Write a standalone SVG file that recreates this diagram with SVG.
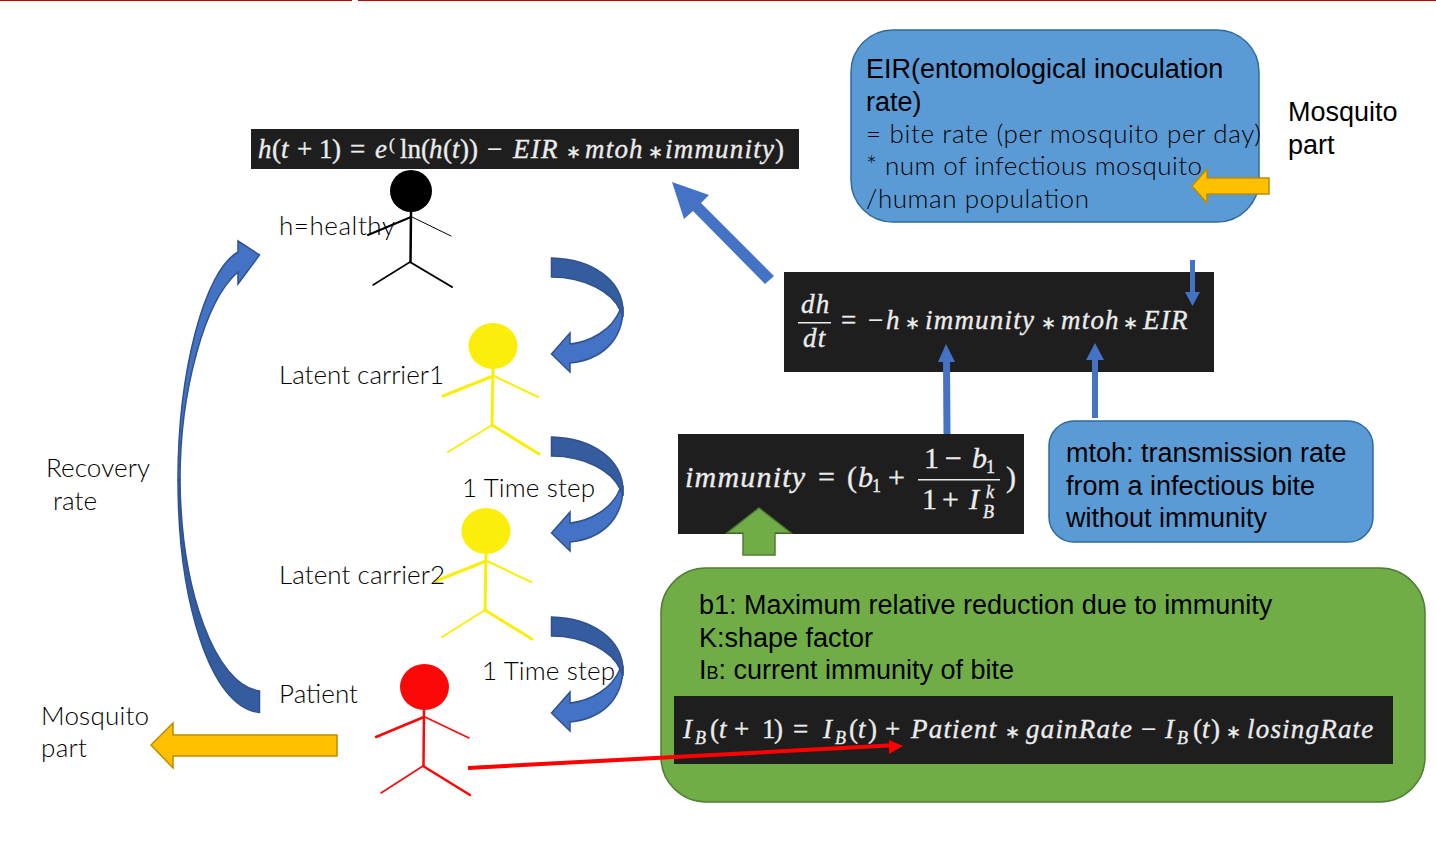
<svg xmlns="http://www.w3.org/2000/svg" xmlns:xlink="http://www.w3.org/1999/xlink" width="1436" height="857" viewBox="0 0 1436 857">
<style>
.s{font-family:"Liberation Sans",Arial,sans-serif;font-size:27px;fill:#000}
.l{font-family:"Lato","Noto Sans",sans-serif;font-weight:300;font-size:26px;fill:#000}
.eq{font-family:"Liberation Serif","Times New Roman",serif;font-size:27px;fill:#ececec;stroke:#ececec;stroke-width:.35px}
.big{font-size:30px}
.i{font-style:italic;letter-spacing:1.2px}
.sm{font-size:18px}
.op{font-size:18px}
.bk{fill:#1e1e1e}
.blue{fill:#5b9bd5;stroke:#2e6a9e;stroke-width:1.5}
.green{fill:#70ad47;stroke:#507e32;stroke-width:1.5}
.gold{fill:#ffc000;stroke:#bc8c00;stroke-width:1.5}
.arr{fill:#4472c4}
.lt{fill:#4472c4;stroke:#2f528f;stroke-width:1.5}
.dk{fill:#345c9e;stroke:#2f528f;stroke-width:1.5}
.fig line{stroke-linecap:round}
</style>
<defs>
<g id="curl">
<path class="lt" d="M570 333L551.500 354L570 372L570 363C600 360 623 342 623 308L620 310C612 330 590 342 570 344Z"/>
<path class="dk" d="M551.500 258C592 259 623 280 623 312L623 317C622 314 621 312 620 310C612 292 585 277 551.500 277Z"/>
</g>
</defs>
<rect width="352" height="1" fill="#c00000"/>
<rect x="358" width="1078" height="1" fill="#c00000"/>

<g id="eq-h">
<rect class="bk" x="251" y="129" width="548" height="40"/>
<text class="eq" y="158"><tspan class="i" x="258">h</tspan><tspan x="272">(</tspan><tspan class="i" x="281">t</tspan><tspan x="297">+</tspan><tspan x="319">1</tspan><tspan x="332">)</tspan><tspan x="350">=</tspan><tspan class="i" x="375">e</tspan><tspan x="389" y="150" font-size="17">(</tspan><tspan x="400" y="158">ln(</tspan><tspan class="i" x="429">h</tspan><tspan x="443">(</tspan><tspan class="i" x="452">t</tspan><tspan x="460">))</tspan><tspan x="487">−</tspan><tspan class="i" x="513">EIR</tspan><tspan class="op" x="566">∗</tspan><tspan class="i" x="585">mtoh</tspan><tspan class="op" x="648">∗</tspan><tspan class="i" x="665">immunity</tspan><tspan x="775">)</tspan></text>
</g>

<g id="eq-dhdt">
<rect class="bk" x="784" y="272" width="430" height="100"/>
<text class="eq" y="313"><tspan class="i" x="801">dh</tspan><tspan class="i" x="803" y="347">dt</tspan><tspan x="841" y="329">=</tspan><tspan x="868">−</tspan><tspan class="i" x="886">h</tspan><tspan class="op" x="905">∗</tspan><tspan class="i" x="925">immunity</tspan><tspan class="op" x="1041">∗</tspan><tspan class="i" x="1061">mtoh</tspan><tspan class="op" x="1123">∗</tspan><tspan class="i" x="1143">EIR</tspan></text>
<rect x="798" y="322" width="33" height="1.5" fill="#ececec"/>
</g>

<g id="eq-immunity">
<rect class="bk" x="678" y="434" width="346" height="100"/>
<text class="eq big" y="487"><tspan class="i" x="685">immunity</tspan><tspan x="818">=</tspan><tspan x="847">(</tspan><tspan class="i" x="858">b</tspan><tspan class="sm" x="872" y="492">1</tspan><tspan x="888" y="487">+</tspan><tspan x="924" y="468">1</tspan><tspan x="945">−</tspan><tspan class="i" x="972">b</tspan><tspan class="sm" x="986" y="473">1</tspan><tspan x="922" y="509">1</tspan><tspan x="942">+</tspan><tspan class="i" x="969">I</tspan><tspan class="i sm" x="986" y="498">k</tspan><tspan class="i sm" x="983" y="518">B</tspan><tspan x="1006" y="487">)</tspan></text>
<rect x="918" y="479" width="82" height="1.5" fill="#ececec"/>
</g>

<g id="eir-box">
<rect class="blue" x="851" y="30" width="408" height="192" rx="42"/>
<text class="s" x="866" y="78">EIR(entomological inoculation</text>
<text class="s" x="866" y="111">rate)</text>
<text class="l" x="866" y="143" textLength="395">= bite rate (per mosquito per day)</text>
<text class="l" x="866" y="175" textLength="336">* num of infectious mosquito</text>
<text class="l" x="866" y="208" textLength="223">/human population</text>
</g>

<g id="mosquito-top"><text class="s" x="1288" y="121">Mosquito</text><text class="s" x="1288" y="154">part</text></g>

<g id="mtoh-box">
<rect class="blue" x="1049" y="421" width="324" height="121" rx="25"/>
<text class="s" x="1066" y="462">mtoh: transmission rate</text>
<text class="s" x="1066" y="495">from a infectious bite</text>
<text class="s" x="1066" y="527">without immunity</text>
</g>

<g id="green-box">
<rect class="green" x="661" y="568" width="764" height="234" rx="45"/>
<text class="s" x="699" y="614">b1: Maximum relative reduction due to immunity</text>
<text class="s" x="699" y="647">K:shape factor</text>
<text class="s" x="699" y="679">I<tspan font-size="18">B</tspan>: current immunity of bite</text>
</g>

<g id="eq-ib">
<rect class="bk" x="674" y="696" width="719" height="68"/>
<text class="eq" y="738"><tspan class="i" x="683">I</tspan><tspan class="i sm" x="695" y="744">B</tspan><tspan x="710" y="738">(</tspan><tspan class="i" x="719">t</tspan><tspan x="734">+</tspan><tspan x="762">1</tspan><tspan x="774">)</tspan><tspan x="793">=</tspan><tspan class="i" x="823">I</tspan><tspan class="i sm" x="835" y="744">B</tspan><tspan x="849" y="738">(</tspan><tspan class="i" x="858">t</tspan><tspan x="868">)</tspan><tspan x="885">+</tspan><tspan class="i" x="911">Patient</tspan><tspan class="op" x="1005">∗</tspan><tspan class="i" x="1026">gainRate</tspan><tspan x="1141">−</tspan><tspan class="i" x="1165">I</tspan><tspan class="i sm" x="1177" y="744">B</tspan><tspan x="1193" y="738">(</tspan><tspan class="i" x="1202">t</tspan><tspan x="1211">)</tspan><tspan class="op" x="1226">∗</tspan><tspan class="i" x="1247">losingRate</tspan></text>
</g>

<g id="healthy" class="fig" stroke="#000" fill="none">
<circle cx="411" cy="191" r="21" fill="#000" stroke="none"/>
<line x1="411" y1="212" x2="410.500" y2="262" stroke-width="2.500"/>
<line x1="411" y1="217" x2="368" y2="235" stroke-width="2"/>
<line x1="412" y1="217" x2="451" y2="236"/>
<line x1="410" y1="262" x2="373" y2="285" stroke-width="1.500"/>
<line x1="410" y1="262" x2="452" y2="287" stroke-width="2"/>
<text class="l" x="279" y="235" stroke="none" textLength="116">h=healthy</text>
</g>

<g id="latent1" class="fig" stroke="#fbee0a" fill="none">
<ellipse cx="493" cy="346" rx="24.500" ry="23" fill="#fbee0a" stroke="none"/>
<line x1="493" y1="369" x2="492" y2="425" stroke-width="3"/>
<line x1="493" y1="376" x2="443" y2="396" stroke-width="3"/>
<line x1="494" y1="376" x2="538" y2="397" stroke-width="2"/>
<line x1="492" y1="425" x2="448" y2="452" stroke-width="2"/>
<line x1="492" y1="425" x2="539" y2="454" stroke-width="3"/>
<text class="l" x="279" y="384" stroke="none" textLength="165">Latent carrier1</text>
</g>

<g id="latent2" class="fig" stroke="#fbee0a" fill="none">
<ellipse cx="486" cy="531" rx="24.500" ry="23" fill="#fbee0a" stroke="none"/>
<line x1="486" y1="554" x2="485" y2="610" stroke-width="3"/>
<line x1="486" y1="561" x2="436" y2="581" stroke-width="3"/>
<line x1="487" y1="561" x2="531" y2="582" stroke-width="2"/>
<line x1="485" y1="610" x2="442" y2="637" stroke-width="2"/>
<line x1="485" y1="610" x2="532" y2="639" stroke-width="3"/>
<text class="l" x="279" y="584" stroke="none" textLength="166">Latent carrier2</text>
</g>

<g id="patient" class="fig" stroke="#fb0707" fill="none">
<ellipse cx="424.500" cy="687" rx="24.500" ry="23" fill="#fb0707" stroke="none"/>
<line x1="424" y1="710" x2="423.500" y2="766" stroke-width="2.500"/>
<line x1="424" y1="717" x2="376" y2="737" stroke-width="2.500"/>
<line x1="425" y1="717" x2="469" y2="738" stroke-width="1.500"/>
<line x1="423" y1="766" x2="381" y2="793" stroke-width="1.500"/>
<line x1="423" y1="766" x2="470" y2="795" stroke-width="2.500"/>
<text class="l" x="279" y="703" stroke="none" textLength="79">Patient</text>
</g>

<g id="connectors">
<use xlink:href="#curl" href="#curl"/>
<use xlink:href="#curl" href="#curl" y="179"/>
<use xlink:href="#curl" href="#curl" y="359"/>
<path class="lt" d="M238 241L259.500 255L238 284L238 272C205 300 180 390 180 480L178 480C178 370 205 270 238 252Z"/>
<path class="dk" d="M178 480C178 600 210 708 259.500 712.500L259.500 691C215 685 181 590 180 480Z"/>
<path class="arr" d="M672 182L709 195L701 203L774 276L765 284L693 211L684 219Z"/>
<path class="arr" d="M946 344L955 362L950 362L950.500 434L943.500 434L943 362L938 362Z"/>
<path class="arr" d="M1095 343L1104 360L1098 360L1098 418L1092 418L1092 360L1086 360Z"/>
<path class="arr" d="M1190 260L1195 260L1195 292L1200 292L1192.500 306L1185 292L1190 292Z"/>
<path class="green" d="M759 508L791 533L775 533L775 555L743 555L743 533L727 533Z"/>
<path class="gold" d="M1192 186L1207 169L1207 178L1269 178L1269 194L1207 194L1207 203Z"/>
<path class="gold" d="M151 745L173 723L173 735L337 735L337 756L173 756L173 768Z"/>
<path fill="#ff0000" d="M468 766L889 743.500L889 740L903 746L889 754L889 747.500L468 770Z"/>
</g>

<text class="l" x="462" y="497" textLength="133">1 Time step</text>
<text class="l" x="482" y="680" textLength="133">1 Time step</text>
<g id="recovery"><text class="l" x="46" y="477" textLength="104">Recovery</text><text class="l" x="53" y="510" textLength="44">rate</text></g>
<g id="mosquito-left"><text class="l" x="41" y="725" textLength="108">Mosquito</text><text class="l" x="41" y="757" textLength="46">part</text></g>
</svg>
